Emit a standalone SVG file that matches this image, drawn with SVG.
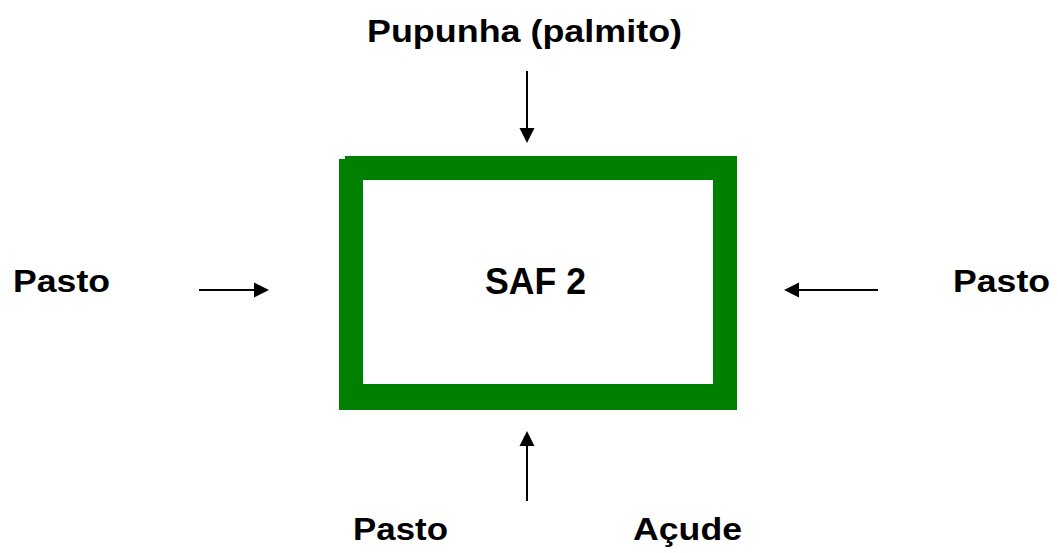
<svg xmlns="http://www.w3.org/2000/svg" width="1058" height="553" viewBox="0 0 1058 553">
  <style>
    .lbl { font-family: "Liberation Sans", Arial, sans-serif; font-weight: bold; fill: #000; }
    .conn { stroke: #000; stroke-width: 2; fill: none; }
    .head { fill: #000; }
  </style>
  <rect width="1058" height="553" fill="#fff"/>

  <!-- central system box -->
  <g id="saf2">
    <path fill="#008000" fill-rule="evenodd" d="M345 156 H737 V410 H339 V159 H345 Z M363 180 V384 H713 V180 Z"/>
    <text class="lbl" x="535.5" y="294" font-size="36" text-anchor="middle" textLength="101" lengthAdjust="spacingAndGlyphs">SAF 2</text>
  </g>

  <!-- surrounding land uses -->
  <g id="pupunha">
    <text class="lbl" x="367" y="42" font-size="32" textLength="315" lengthAdjust="spacingAndGlyphs">Pupunha (palmito)</text>
  </g>
  <g id="pasto-left">
    <text class="lbl" x="13" y="292" font-size="32" textLength="97" lengthAdjust="spacingAndGlyphs">Pasto</text>
  </g>
  <g id="pasto-right">
    <text class="lbl" x="953" y="292" font-size="32" textLength="97" lengthAdjust="spacingAndGlyphs">Pasto</text>
  </g>
  <g id="pasto-bottom">
    <text class="lbl" x="353" y="540" font-size="32" textLength="95" lengthAdjust="spacingAndGlyphs">Pasto</text>
  </g>
  <g id="acude">
    <text class="lbl" x="633" y="540" font-size="32" textLength="109" lengthAdjust="spacingAndGlyphs">Açude</text>
  </g>

  <!-- arrows pointing into the box -->
  <g id="connectors">
    <line class="conn" x1="527" y1="71" x2="527" y2="129"/>
    <polygon class="head" points="519.5,128 534.5,128 527,143"/>

    <line class="conn" x1="199" y1="290" x2="255" y2="290"/>
    <polygon class="head" points="254,282.5 254,297.5 269,290"/>

    <line class="conn" x1="878" y1="290" x2="798" y2="290"/>
    <polygon class="head" points="799,282.5 799,297.5 784,290"/>

    <line class="conn" x1="527" y1="501" x2="527" y2="445"/>
    <polygon class="head" points="519.5,446 534.5,446 527,431"/>
  </g>
</svg>
